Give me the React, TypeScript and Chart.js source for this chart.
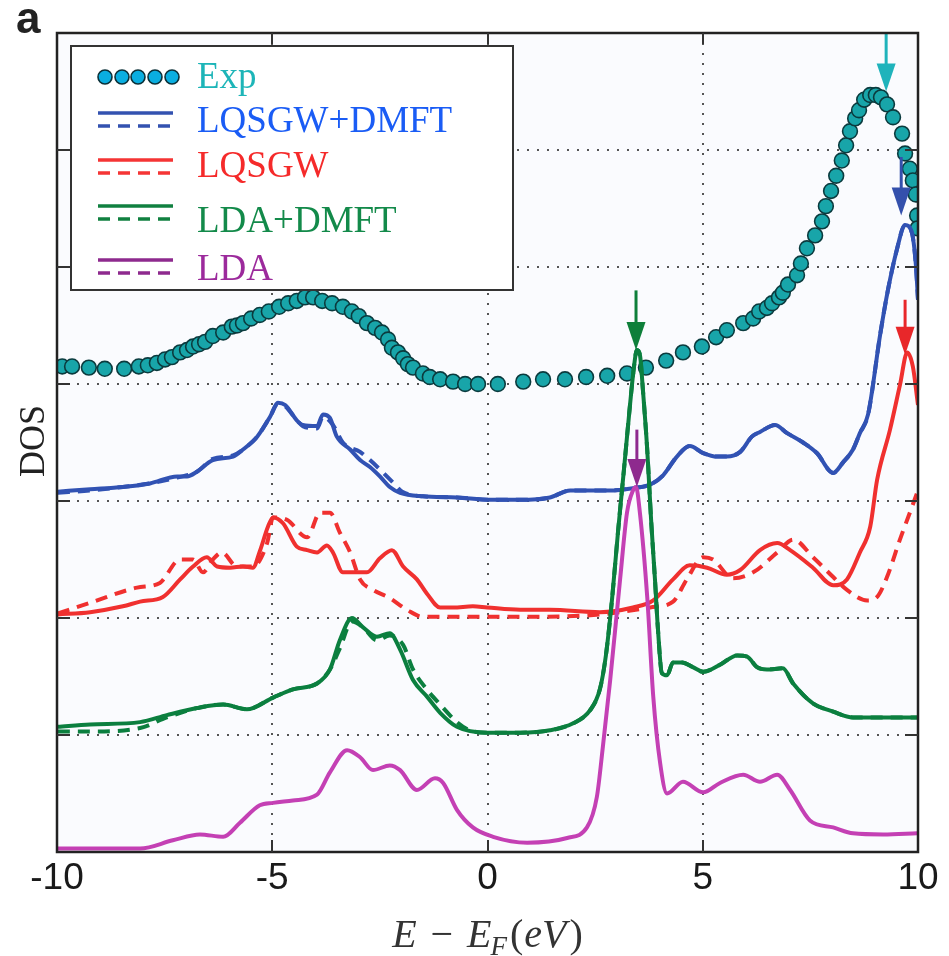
import React, { useEffect, useRef } from "react";
import { Chart, registerables } from "chart.js";

Chart.register(...registerables);

// ---------- data (E - E_F in eV, DOS offset units) ----------
const expE = [-9.88,-9.65,-9.26,-8.89,-8.44,-8.10,-7.89,-7.68,-7.49,-7.33,-7.14,-6.98,-6.84,-6.70,-6.56,-6.38,-6.14,-5.94,-5.82,-5.68,-5.49,-5.29,-5.08,-4.84,-4.63,-4.43,-4.24,-4.05,-3.84,-3.61,-3.36,-3.15,-2.99,-2.80,-2.61,-2.45,-2.31,-2.22,-2.08,-1.96,-1.85,-1.73,-1.50,-1.34,-1.10,-0.80,-0.52,-0.22,0.24,0.83,1.29,1.80,2.29,2.78,3.24,3.68,4.15,4.54,4.98,5.31,5.56,5.94,6.17,6.31,6.49,6.61,6.77,6.86,6.98,7.19,7.28,7.42,7.61,7.77,7.86,7.98,8.10,8.23,8.33,8.42,8.54,8.63,8.75,8.89,9.02,9.14,9.28,9.42,9.63,9.70,9.81,9.88,9.95,9.98,9.99];
const expDOS = [4.15,4.15,4.14,4.13,4.13,4.15,4.16,4.18,4.21,4.23,4.27,4.29,4.32,4.34,4.36,4.41,4.44,4.49,4.50,4.52,4.56,4.59,4.62,4.66,4.69,4.71,4.74,4.74,4.71,4.69,4.66,4.62,4.58,4.52,4.48,4.44,4.38,4.31,4.27,4.22,4.17,4.14,4.09,4.06,4.04,4.02,4.00,4.00,4.00,4.02,4.04,4.04,4.06,4.07,4.09,4.14,4.20,4.27,4.32,4.40,4.46,4.52,4.56,4.62,4.65,4.69,4.74,4.78,4.85,4.93,5.03,5.16,5.27,5.39,5.52,5.65,5.78,5.91,6.04,6.16,6.27,6.34,6.43,6.47,6.47,6.45,6.39,6.28,6.14,5.97,5.84,5.74,5.62,5.44,5.33];

const lqsgwDmftE = [-9.98,-9.23,-8.47,-7.84,-7.21,-6.98,-6.75,-6.38,-5.91,-5.68,-5.35,-5.05,-4.87,-4.70,-4.43,-4.29,-3.96,-3.82,-3.66,-3.50,-3.19,-2.96,-2.73,-2.50,-2.27,-2.03,-1.50,-0.71,0.06,0.76,1.45,1.92,2.31,2.85,3.38,3.78,4.08,4.40,4.70,5.01,5.33,5.56,5.87,6.14,6.33,6.68,6.96,7.33,7.65,8.03,8.26,8.49,8.65,8.84,9.12,9.30,9.51,9.70,9.86,9.95,10.0];
const lqsgwDmftDOS = [3.08,3.10,3.12,3.15,3.21,3.21,3.25,3.35,3.38,3.44,3.55,3.72,3.84,3.82,3.69,3.65,3.64,3.74,3.71,3.55,3.44,3.35,3.29,3.21,3.12,3.07,3.04,3.03,3.01,3.01,3.03,3.09,3.09,3.09,3.11,3.14,3.22,3.38,3.47,3.41,3.38,3.38,3.42,3.55,3.59,3.65,3.58,3.50,3.41,3.24,3.33,3.44,3.58,3.74,4.42,4.80,5.15,5.36,5.29,5.02,4.72];

const lqsgwDmftDashE = [-9.98,-9.23,-8.47,-7.84,-7.21,-6.75,-6.38,-5.91,-5.68,-5.35,-5.05,-4.87,-4.70,-4.43,-4.29,-3.96,-3.82,-3.59,-3.36,-2.96,-2.73,-2.50,-2.20,-1.98,-1.50,-0.71,0.06,0.76,1.45,1.92,2.31,2.85,3.38,3.78,4.08,4.40,4.70,5.01,5.33,5.56,5.87,6.14,6.33,6.68,6.96,7.33,7.65,8.03,8.26,8.49,8.65,8.84,9.12,9.30,9.51,9.70,9.86,9.95,10.0];
const lqsgwDmftDashDOS = [3.07,3.09,3.12,3.15,3.20,3.25,3.36,3.39,3.44,3.55,3.72,3.83,3.81,3.69,3.64,3.62,3.72,3.65,3.50,3.42,3.35,3.27,3.16,3.08,3.04,3.03,3.01,3.01,3.03,3.09,3.09,3.09,3.11,3.14,3.22,3.38,3.47,3.41,3.38,3.38,3.42,3.55,3.59,3.65,3.58,3.50,3.41,3.24,3.33,3.44,3.58,3.74,4.42,4.80,5.15,5.36,5.29,5.02,4.72];

const lqsgwE = [-9.98,-9.23,-8.47,-8.07,-7.54,-7.14,-6.84,-6.52,-6.28,-5.98,-5.68,-5.45,-5.28,-5.10,-4.98,-4.75,-4.43,-4.19,-3.96,-3.73,-3.59,-3.36,-3.12,-2.80,-2.50,-2.22,-1.96,-1.64,-1.41,-1.10,-0.80,-0.34,-0.01,0.76,1.45,2.61,3.38,3.85,4.31,4.70,5.10,5.56,5.87,6.33,6.73,7.03,7.56,8.03,8.35,8.65,8.89,9.05,9.35,9.58,9.75,9.88,10.0];
const lqsgwDOS = [2.03,2.05,2.10,2.14,2.18,2.33,2.44,2.52,2.44,2.43,2.44,2.43,2.58,2.78,2.86,2.81,2.61,2.58,2.56,2.62,2.56,2.39,2.39,2.39,2.51,2.58,2.44,2.33,2.21,2.09,2.09,2.10,2.09,2.07,2.07,2.05,2.09,2.15,2.33,2.45,2.43,2.37,2.41,2.58,2.64,2.58,2.43,2.28,2.33,2.56,2.78,3.18,3.61,3.99,4.27,4.15,3.82];

const lqsgwDashE = [-9.98,-9.23,-8.14,-7.61,-7.14,-6.84,-6.61,-6.38,-6.17,-5.82,-5.45,-5.12,-4.98,-4.66,-4.19,-3.89,-3.66,-3.43,-3.19,-2.96,-2.66,-2.27,-1.87,-1.50,0.76,2.61,3.78,4.31,4.63,5.01,5.24,5.70,6.17,6.73,7.10,7.56,8.03,8.35,8.82,9.05,9.28,9.58,9.81,10.0];
const lqsgwDashDOS = [2.04,2.13,2.26,2.30,2.50,2.50,2.39,2.50,2.56,2.44,2.44,2.64,2.86,2.84,2.69,2.90,2.90,2.73,2.56,2.33,2.24,2.17,2.07,2.01,2.01,2.03,2.09,2.14,2.33,2.52,2.50,2.34,2.39,2.56,2.67,2.52,2.35,2.24,2.15,2.18,2.35,2.67,2.90,3.09];

const ldaDmftE = [-9.98,-9.23,-8.07,-7.45,-6.75,-6.14,-5.59,-4.98,-4.52,-3.96,-3.66,-3.43,-3.15,-2.89,-2.57,-2.27,-2.03,-1.73,-1.41,-1.10,-0.71,-0.01,0.76,1.45,1.99,2.38,2.61,2.75,2.89,3.03,3.17,3.31,3.40,3.47,3.54,3.61,3.71,3.80,3.89,3.96,4.05,4.17,4.31,4.52,4.77,5.01,5.40,5.80,6.03,6.26,6.49,6.86,7.10,7.56,8.03,8.49,9.98];
const ldaDmftDOS = [1.07,1.09,1.11,1.17,1.23,1.26,1.22,1.32,1.39,1.44,1.56,1.81,2.00,1.92,1.84,1.87,1.73,1.47,1.33,1.19,1.07,1.02,1.02,1.04,1.10,1.21,1.39,1.68,2.15,2.73,3.27,3.82,4.14,4.29,4.25,3.95,3.44,2.84,2.33,1.90,1.53,1.51,1.62,1.62,1.58,1.54,1.60,1.68,1.67,1.58,1.56,1.57,1.44,1.27,1.20,1.15,1.15];

const ldaDmftDashE = [-9.98,-9.23,-8.07,-7.45,-6.75,-6.14,-5.59,-4.98,-4.52,-3.96,-3.66,-3.43,-3.15,-2.89,-2.57,-2.27,-1.96,-1.73,-1.41,-1.10,-0.71,-0.41,-0.01,0.76,1.45,1.99,2.38,2.61,2.75,2.89,3.03,3.17,3.31,3.40,3.47,3.54,3.61,3.71,3.80,3.89,3.96,4.05,4.17,4.31,4.52,4.77,5.01,5.40,5.80,6.03,6.26,6.49,6.86,7.10,7.56,8.03,8.49,9.98];
const ldaDmftDashDOS = [1.03,1.03,1.06,1.15,1.23,1.26,1.22,1.32,1.39,1.44,1.56,1.74,1.97,1.92,1.81,1.85,1.77,1.56,1.39,1.26,1.11,1.04,1.02,1.02,1.04,1.10,1.21,1.39,1.68,2.15,2.73,3.27,3.82,4.14,4.29,4.25,3.95,3.44,2.84,2.33,1.90,1.53,1.51,1.62,1.62,1.58,1.54,1.60,1.68,1.67,1.58,1.56,1.57,1.44,1.27,1.20,1.15,1.15];

const ldaE = [-9.98,-8.07,-7.31,-6.68,-6.14,-5.75,-5.29,-4.98,-4.52,-3.96,-3.66,-3.26,-2.96,-2.66,-2.27,-2.03,-1.64,-1.22,-1.03,-0.71,-0.34,0.13,0.92,1.85,2.31,2.54,2.68,2.85,3.08,3.24,3.38,3.45,3.54,3.71,3.85,4.01,4.17,4.54,5.01,5.40,5.94,6.33,6.73,7.03,7.49,8.03,8.49,9.19,9.98];
const ldaDOS = [0.03,0.03,0.10,0.15,0.13,0.25,0.40,0.42,0.44,0.49,0.68,0.87,0.81,0.70,0.74,0.70,0.53,0.63,0.59,0.36,0.21,0.13,0.08,0.12,0.21,0.47,0.90,1.47,2.33,2.90,3.09,3.12,2.90,2.18,1.33,0.76,0.50,0.60,0.51,0.59,0.66,0.60,0.66,0.53,0.27,0.21,0.16,0.15,0.16];

// peak-marker arrows: energy, start level, tip level
const arrowE = [9.26, 9.61, 9.70, 3.45, 3.47];
const arrowFrom = [7.0, 5.94, 4.72, 4.80, 3.61];
const arrowTo = [6.50, 5.44, 4.25, 4.29, 3.12];

const legendLabels = ["Exp", "LQSGW+DMFT", "LQSGW", "LDA+DMFT", "LDA"];
const xTickValues = [-10, -5, 0, 5, 10];
const xTickLabels = ["-10", "-5", "0", "5", "10"];
const gridXValues = [-5, 0, 5];
const gridYValues = [1, 2, 3, 4, 5, 6];

// ---------- styles ----------
const COL = {
  exp: "#18a5a9",
  expEdge: "#0b3b3e",
  blue: "#3152b3",
  red: "#f0302f",
  green: "#0b7f3f",
  lda: "#c440b4",
};
const arrowColors = ["#1fb3bb", "#3450ac", "#e8272a", "#0e7f3a", "#8e2a8e"];
const legendText = ["#1db5b8", "#1a5cf5", "#f52a2a", "#138a4a", "#9c2a9c"];
const legendLine = ["", "#3352b0", "#f53535", "#108040", "#8e2a8e"];

const SERIF = '"Liberation Serif", "Times New Roman", serif';
const SANS = '"Liberation Sans", Arial, sans-serif';

const zip = (xs: number[], ys: number[]) => xs.map((x, i) => ({ x, y: ys[i] }));

const decorPlugin = {
  id: "decor",
  beforeDatasetsDraw(chart: any) {
    const { ctx, chartArea: a, scales } = chart;
    ctx.save();
    ctx.fillStyle = "#fafbfe";
    ctx.fillRect(a.left, a.top, a.right - a.left, a.bottom - a.top);
    ctx.strokeStyle = "#555";
    ctx.lineWidth = 2;
    ctx.setLineDash([2, 8]);
    ctx.beginPath();
    gridXValues.forEach((v) => {
      const px = Math.round(scales.x.getPixelForValue(v));
      ctx.moveTo(px, a.top);
      ctx.lineTo(px, a.bottom);
    });
    gridYValues.forEach((v) => {
      const py = Math.round(scales.y.getPixelForValue(v));
      ctx.moveTo(a.left, py);
      ctx.lineTo(a.right, py);
    });
    ctx.stroke();
    ctx.restore();
  },
  afterDraw(chart: any) {
    const { ctx, chartArea: a, scales } = chart;
    ctx.save();
    ctx.setLineDash([]);

    // arrows
    arrowE.forEach((e, i) => {
      const px = scales.x.getPixelForValue(e);
      const y0 = scales.y.getPixelForValue(arrowFrom[i]);
      const y1 = scales.y.getPixelForValue(arrowTo[i]);
      const head = 28, half = 9.5;
      ctx.strokeStyle = arrowColors[i];
      ctx.fillStyle = arrowColors[i];
      ctx.lineWidth = 3;
      ctx.beginPath();
      ctx.moveTo(px, y0);
      ctx.lineTo(px, y1 - head + 2);
      ctx.stroke();
      ctx.beginPath();
      ctx.moveTo(px - half, y1 - head);
      ctx.lineTo(px + half, y1 - head);
      ctx.lineTo(px, y1);
      ctx.closePath();
      ctx.fill();
    });

    // frame
    ctx.strokeStyle = "#222";
    ctx.lineWidth = 2.5;
    ctx.strokeRect(a.left, a.top, a.right - a.left, a.bottom - a.top);

    // tick marks
    ctx.strokeStyle = "#333";
    ctx.lineWidth = 2;
    ctx.beginPath();
    gridXValues.forEach((v) => {
      const px = Math.round(scales.x.getPixelForValue(v));
      ctx.moveTo(px, a.bottom); ctx.lineTo(px, a.bottom - 12);
      ctx.moveTo(px, a.top); ctx.lineTo(px, a.top + 11);
    });
    gridYValues.forEach((v) => {
      const py = Math.round(scales.y.getPixelForValue(v));
      ctx.moveTo(a.left, py); ctx.lineTo(a.left + 13, py);
      ctx.moveTo(a.right, py); ctx.lineTo(a.right - 13, py);
    });
    ctx.stroke();

    // legend
    const L = a.left + 14, T = a.top + 13, W = 442, H = 244;
    ctx.fillStyle = "#ffffff";
    ctx.fillRect(L, T, W, H);
    ctx.strokeStyle = "#333";
    ctx.lineWidth = 2;
    ctx.strokeRect(L, T, W, H);

    const sx0 = a.left + 41, sx1 = a.left + 116, tx = a.left + 140;
    const ey = a.top + 44;
    [48, 65, 81, 98, 115].forEach((dx) => {
      ctx.beginPath();
      ctx.arc(a.left + dx, ey, 7, 0, Math.PI * 2);
      ctx.fillStyle = "#0aaee0";
      ctx.fill();
      ctx.lineWidth = 1.6;
      ctx.strokeStyle = "#0b3038";
      ctx.stroke();
    });
    const rows = [
      { solid: 0, text: 55 },
      { solid: 80, text: 99 },
      { solid: 127, text: 144 },
      { solid: 173, text: 199 },
      { solid: 227, text: 247 },
    ];
    ctx.font = `37px ${SERIF}`;
    ctx.textAlign = "left";
    ctx.textBaseline = "alphabetic";
    rows.forEach((r, i) => {
      if (i > 0) {
        ctx.strokeStyle = legendLine[i];
        ctx.lineWidth = 3.4;
        ctx.setLineDash([]);
        ctx.beginPath();
        ctx.moveTo(sx0, a.top + r.solid);
        ctx.lineTo(sx1, a.top + r.solid);
        ctx.stroke();
        ctx.setLineDash([12, 8]);
        ctx.beginPath();
        ctx.moveTo(sx0, a.top + r.solid + 13);
        ctx.lineTo(sx1, a.top + r.solid + 13);
        ctx.stroke();
        ctx.setLineDash([]);
      }
      ctx.fillStyle = legendText[i];
      ctx.fillText(legendLabels[i], tx, a.top + r.text);
    });

    // y title
    ctx.save();
    ctx.translate(44, 441);
    ctx.rotate(-Math.PI / 2);
    ctx.font = `36px ${SERIF}`;
    ctx.fillStyle = "#222";
    ctx.textAlign = "center";
    ctx.textBaseline = "alphabetic";
    ctx.fillText("DOS", 0, 0);
    ctx.restore();

    // x title E − E_F(eV)
    const IT = `italic 40px ${SERIF}`;
    const RM = `40px ${SERIF}`;
    const ITS = `italic 27px ${SERIF}`;
    const segs = [
      { t: "E", f: IT, dy: 0, gap: 0 },
      { t: "\u2212", f: RM, dy: 0, gap: 14 },
      { t: "E", f: IT, dy: 0, gap: 14 },
      { t: "F", f: ITS, dy: 8, gap: -1 },
      { t: "(", f: RM, dy: 0, gap: 3 },
      { t: "eV", f: IT, dy: 0, gap: 1 },
      { t: ")", f: RM, dy: 0, gap: 3 },
    ];
    let total = 0;
    const widths = segs.map((s) => {
      ctx.font = s.f;
      const w = ctx.measureText(s.t).width;
      total += w + s.gap;
      return w;
    });
    let cx = (a.left + a.right) / 2 - total / 2;
    ctx.fillStyle = "#333";
    ctx.textAlign = "left";
    segs.forEach((s, i) => {
      cx += s.gap;
      ctx.font = s.f;
      ctx.fillText(s.t, cx, 947 + s.dy);
      cx += widths[i];
    });

    // panel label
    ctx.font = `bold 44px ${SANS}`;
    ctx.fillStyle = "#222";
    ctx.fillText("a", 16, 33);

    ctx.restore();
  },
};

export default function App() {
  const ref = useRef<HTMLCanvasElement | null>(null);

  useEffect(() => {
    if (!ref.current) return;
    const lineDs = (label: string, xs: number[], ys: number[], color: string, dashed: boolean, order: number) => ({
      label,
      data: zip(xs, ys),
      borderColor: color,
      backgroundColor: color,
      borderWidth: 4,
      borderDash: dashed ? [12, 8] : [],
      pointRadius: 0,
      pointHoverRadius: 0,
      cubicInterpolationMode: "monotone" as const,
      fill: false,
      clip: 0,
      order,
    });
    const chart = new Chart(ref.current, {
      type: "line",
      data: {
        datasets: [
          {
            label: legendLabels[0],
            data: zip(expE, expDOS),
            showLine: false,
            pointRadius: 7.4,
            pointHoverRadius: 7.4,
            pointBackgroundColor: COL.exp,
            pointBorderColor: COL.expEdge,
            pointBorderWidth: 1.6,
            clip: 0,
            order: 10,
          } as any,
          lineDs(legendLabels[1] + " dashed", lqsgwDmftDashE, lqsgwDmftDashDOS, COL.blue, true, 9),
          lineDs(legendLabels[1], lqsgwDmftE, lqsgwDmftDOS, COL.blue, false, 8),
          lineDs(legendLabels[2] + " dashed", lqsgwDashE, lqsgwDashDOS, COL.red, true, 7),
          lineDs(legendLabels[2], lqsgwE, lqsgwDOS, COL.red, false, 6),
          lineDs(legendLabels[3] + " dashed", ldaDmftDashE, ldaDmftDashDOS, COL.green, true, 5),
          lineDs(legendLabels[3], ldaDmftE, ldaDmftDOS, COL.green, false, 4),
          lineDs(legendLabels[4], ldaE, ldaDOS, COL.lda, false, 3),
        ],
      },
      options: {
        responsive: false,
        devicePixelRatio: 1,
        animation: false,
        events: [],
        layout: { padding: { left: 0, right: 31, top: 33, bottom: 0 } },
        plugins: { legend: { display: false }, tooltip: { enabled: false } },
        scales: {
          x: {
            type: "linear",
            min: -10,
            max: 10,
            afterBuildTicks: (s: any) => {
              s.ticks = xTickValues.map((v) => ({ value: v }));
            },
            ticks: {
              autoSkip: false,
              maxRotation: 0,
              padding: 5,
              color: "#1a1a1a",
              font: { family: SANS, size: 37 },
              callback: (v: any) => {
                const i = xTickValues.indexOf(Number(v));
                return i >= 0 ? xTickLabels[i] : String(v);
              },
            },
            grid: { display: false, drawTicks: false },
            border: { display: false },
            afterFit: (s: any) => {
              s.height = 104;
            },
          },
          y: {
            type: "linear",
            min: 0,
            max: 7,
            ticks: { display: false },
            grid: { display: false, drawTicks: false },
            border: { display: false },
            afterFit: (s: any) => {
              s.width = 57;
            },
          },
        },
      },
      plugins: [decorPlugin],
    } as any);
    return () => chart.destroy();
  }, []);

  return (
    <div style={{ position: "absolute", left: 0, top: 0, width: 949, height: 956, background: "#fff" }}>
      <canvas ref={ref} width={949} height={956} style={{ display: "block", width: 949, height: 956 }} />
    </div>
  );
}
